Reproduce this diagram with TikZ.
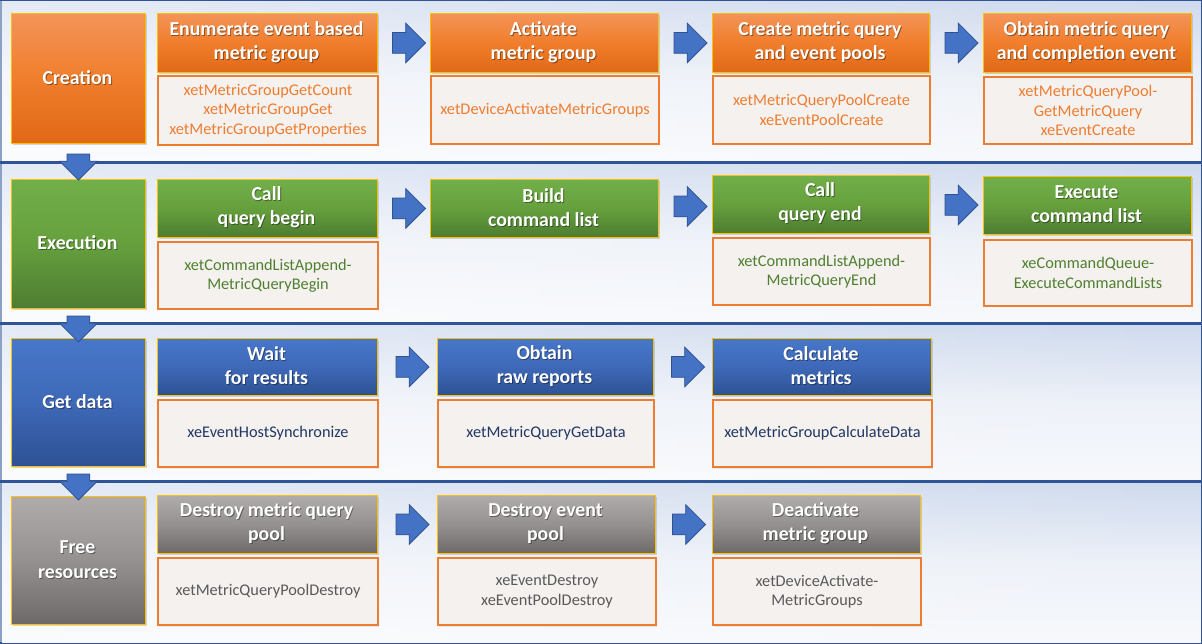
\documentclass[tikz,border=0pt]{standalone}
\usepackage{fontspec}
\setmainfont{Carlito}
\usetikzlibrary{shapes.arrows,shadows,calc,fadings}
\definecolor{bandB}{HTML}{2F5597}
\definecolor{bandT}{HTML}{CFDAEE}
\definecolor{bandM}{HTML}{EDF1F8}
\definecolor{bandL}{HTML}{F7F9FC}
\definecolor{gold}{HTML}{FFC000}
\definecolor{orT}{HTML}{F39459}
\definecolor{orM}{HTML}{F07E2C}
\definecolor{orB}{HTML}{E06816}
\definecolor{grT}{HTML}{72AF49}
\definecolor{grM}{HTML}{65A03D}
\definecolor{grB}{HTML}{4E7C31}
\definecolor{blT}{HTML}{4877C9}
\definecolor{blM}{HTML}{3E69B8}
\definecolor{blB}{HTML}{2D5193}
\definecolor{gyT}{HTML}{B0ACAB}
\definecolor{gyM}{HTML}{959190}
\definecolor{gyB}{HTML}{6D6969}
\definecolor{codeB}{HTML}{ED7D31}
\definecolor{codeF}{HTML}{F5F1EF}
\definecolor{txOr}{HTML}{ED7D31}
\definecolor{txGr}{HTML}{4F8030}
\definecolor{txBl}{HTML}{1F3864}
\definecolor{txGy}{HTML}{595959}
\definecolor{arrF}{HTML}{4472C4}
\definecolor{arrB}{HTML}{2F528F}
\tikzset{
  band/.style={draw=bandB, line width=1.5pt, top color=bandT, bottom color=bandL, middle color=bandM},
  boxbase/.style={anchor=north west, inner sep=0pt, align=center},
  hfont/.style={font=\fontsize{19.8}{24}\selectfont\bfseries},
  cfont/.style={font=\fontsize{19.8}{25}\selectfont\bfseries},
  hdr/.style={boxbase, draw=gold, line width=0.8pt, text=black, text opacity=0.4, hfont,
    drop shadow={shadow xshift=1.5pt, shadow yshift=-2pt, opacity=0.3}},
  cat/.style={hdr, cfont, minimum width=134pt},
  % white title over its own soft shadow
  ht/.style={node contents={#1},
    label={[hfont, text=white, align=center, inner sep=0pt, shift={(-0.9,-0.9)}]center:{#1}}},
  ct/.style={node contents={#1},
    label={[cfont, text=white, align=center, inner sep=0pt, shift={(-0.9,-0.9)}]center:{#1}}},
  orangeF/.style={top color=orT, bottom color=orB, middle color=orM},
  greenF/.style={top color=grT, bottom color=grB, middle color=grM},
  blueF/.style={top color=blT, bottom color=blB, middle color=blM},
  greyF/.style={top color=gyT, bottom color=gyB, middle color=gyM},
  code/.style={boxbase, draw=codeB, line width=2pt, fill=codeF,
    font=\fontsize{16.3}{19.5}\selectfont,
    drop shadow={shadow xshift=1pt, shadow yshift=-1.5pt, opacity=0.15}},
  barrow/.style={single arrow, draw=arrB, fill=arrF, line width=0.75pt,
    minimum height=33pt, minimum width=0pt, inner sep=0pt, inner ysep=10pt,
    single arrow head extend=9.5pt},
  darrow/.style={barrow, rotate=-90, minimum height=26pt, inner ysep=11pt,
    single arrow head extend=7.5pt}
}
\begin{document}
\begin{tikzpicture}[x=1pt,y=-1pt]
\useasboundingbox (0,0) rectangle (1202,644);
% bands
\foreach \a/\b in {0.75/162, 163.5/323, 324.5/481, 482.5/643.25}{
  \path[band] (0.75,\a) rectangle (1201.25,\b);
  \fill[white, opacity=0.45, path fading=east] (1.5,\a+0.75) rectangle (1200.5,\b-0.75);
}
% ---------- Row 1: Creation ----------
\node (cat1) at (11,13) [cat, orangeF, minimum height=130pt, ct={Creation}];
\node (h11) at (157,13) [hdr, orangeF, minimum width=220pt, minimum height=59pt, ht={Enumerate event based\\metric group}];
\node[code, text=txOr, minimum width=220pt, minimum height=69pt] (c11) at (157,75) {xetMetricGroupGetCount\\xetMetricGroupGet\\xetMetricGroupGetProperties};
\node (h12) at (430,13) [hdr, orangeF, minimum width=228pt, minimum height=59pt, ht={Activate\\metric group}];
\node[code, text=txOr, minimum width=228pt, minimum height=68pt] (c12) at (430,75) {xetDeviceActivateMetricGroups};
\node (h13) at (712,13) [hdr, orangeF, minimum width=217pt, minimum height=59pt, ht={Create metric query\\and event pools}];
\node[code, text=txOr, minimum width=217pt, minimum height=68pt] (c13) at (712,75) {xetMetricQueryPoolCreate\\xeEventPoolCreate};
\node (h14) at (983,13) [hdr, orangeF, minimum width=208pt, minimum height=59pt, ht={Obtain metric query\\and completion event}];
\node[code, text=txOr, minimum width=208pt, minimum height=67pt] (c14) at (983,76) {xetMetricQueryPool-\\GetMetricQuery\\xeEventCreate};
% ---------- Row 2: Execution ----------
\node (cat2) at (11,179) [cat, greenF, minimum height=129pt, ct={Execution}];
\node (h21) at (157,179) [hdr, greenF, minimum width=220pt, minimum height=58pt, ht={Call\\query begin}];
\node[code, text=txGr, minimum width=220pt, minimum height=67pt] (c21) at (157,241) {xetCommandListAppend-\\MetricQueryBegin};
\node (h22) at (430,179) [hdr, greenF, minimum width=228pt, minimum height=58pt, ht={Build\\command list}];
\node (h23) at (712,175) [hdr, greenF, minimum width=217pt, minimum height=58pt, ht={Call\\query end}];
\node[code, text=txGr, minimum width=217pt, minimum height=67pt] (c23) at (712,237) {xetCommandListAppend-\\MetricQueryEnd};
\node (h24) at (983,176) [hdr, greenF, minimum width=208pt, minimum height=58pt, ht={Execute\\command list}];
\node[code, text=txGr, minimum width=208pt, minimum height=66pt] (c24) at (983,239) {xeCommandQueue-\\ExecuteCommandLists};
% ---------- Row 3: Get data ----------
\node (cat3) at (11,338) [cat, blueF, minimum height=128pt, ct={Get data}];
\node (h31) at (157,338) [hdr, blueF, minimum width=220pt, minimum height=57pt, ht={Wait\\for results}];
\node[code, text=txBl, minimum width=220pt, minimum height=67pt] (c31) at (157,399) {xeEventHostSynchronize};
\node (h32) at (437,338) [hdr, blueF, minimum width=216pt, minimum height=57pt, ht={Obtain\\raw reports}];
\node[code, text=txBl, minimum width=216pt, minimum height=67pt] (c32) at (437,399) {xetMetricQueryGetData};
\node (h33) at (712,338) [hdr, blueF, minimum width=219pt, minimum height=57pt, ht={Calculate\\metrics}];
\node[code, text=txBl, minimum width=219pt, minimum height=67pt] (c33) at (712,399) {xetMetricGroupCalculateData};
% ---------- Row 4: Free resources ----------
\node (cat4) at (11,496) [cat, greyF, minimum height=128pt, ct={Free\\resources}];
\node (h41) at (157,495) [hdr, greyF, minimum width=220pt, minimum height=58pt, ht={Destroy metric query\\pool}];
\node[code, text=txGy, minimum width=220pt, minimum height=67pt] (c41) at (157,557) {xetMetricQueryPoolDestroy};
\node (h42) at (437,495) [hdr, greyF, minimum width=218pt, minimum height=58pt, ht={Destroy event\\pool}];
\node[code, text=txGy, minimum width=218pt, minimum height=67pt] (c42) at (437,557) {xeEventDestroy\\xeEventPoolDestroy};
\node (h43) at (712,495) [hdr, greyF, minimum width=208pt, minimum height=58pt, ht={Deactivate\\metric group}];
\node[code, text=txGy, minimum width=208pt, minimum height=67pt] (c43) at (712,557) {xetDeviceActivate-\\MetricGroups};
% ---------- horizontal block arrows ----------
\foreach \p/\q in {h11/h12, h12/h13, h13/h14, h21/h22, h22/h23, h23/h24, h31/h32, h32/h33, h41/h42, h42/h43}{
  \node[barrow] (a-\p-\q) at ($(\p.east)!0.5!(\q.west)$) {};
}
% ---------- vertical block arrows ----------
\foreach \p/\q in {cat1/cat2, cat2/cat3, cat3/cat4}{
  \node[darrow] (a-\p-\q) at ($(\p.south)!0.5!(\q.north)$) {};
}
\end{tikzpicture}
\end{document}
